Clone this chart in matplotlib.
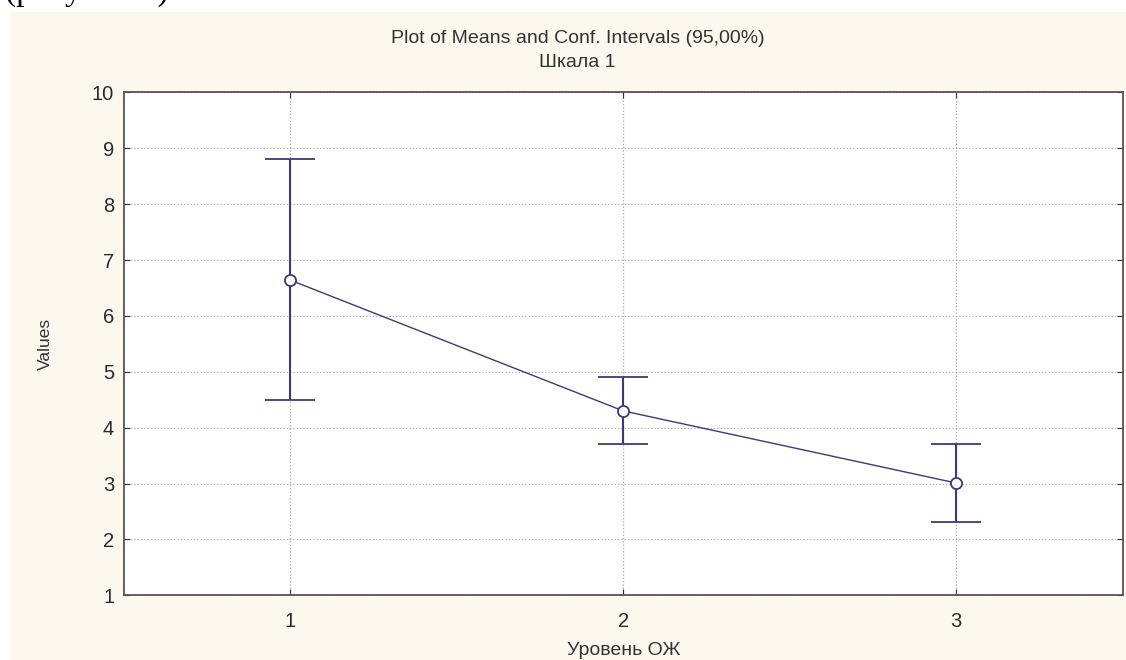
import numpy as np
import matplotlib.pyplot as plt

plt.rcParams['font.family'] = ['Liberation Sans', 'DejaVu Sans']

# group levels and means with 95% CI bounds
levels = [1, 2, 3]
means = [6.64, 4.30, 3.01]
upper = [8.80, 4.90, 3.70]
lower = [4.50, 3.70, 2.32]

means = np.array(means)
err = [means - np.array(lower), np.array(upper) - means]

fig = plt.figure(figsize=(11.26, 6.6), dpi=100)
fig.patch.set_facecolor('white')

# beige panel behind the chart
panel = fig.add_axes([0.009, 0.0, 0.991, 0.982])
panel.set_facecolor('#fcf8ee')
panel.set_xticks([])
panel.set_yticks([])
for s in panel.spines.values():
    s.set_visible(False)

# cut-off caption line from the page above
fig.text(0.004, 1.012, '(рисунок 1).', family='Liberation Serif', fontsize=24,
         color='black', va='center', ha='left')

ax = fig.add_axes([0.110, 0.098, 0.887, 0.762])
ax.set_facecolor('white')
col = '#3b3b78'
ax.errorbar(levels, means, yerr=err, color=col, lw=1.0, capsize=18,
            capthick=1.3, elinewidth=1.5, marker='o', ms=8,
            mfc='white', mec=col, mew=1.3, zorder=3)

ax.set_xlim(0.5, 3.5)
ax.set_ylim(1, 10)
ax.set_xticks(levels)
ax.set_yticks(range(1, 11))
ax.grid(True, ls=':', color='#aaaaaa', lw=0.9)
ax.tick_params(direction='in', length=4, top=True, right=True,
               labelsize=14.5, colors='#333333', labelcolor='#2a2a2a')
ax.tick_params(axis='x', pad=12)
ax.tick_params(axis='y', pad=7)
for s in ax.spines.values():
    s.set_color('#555555')
    s.set_linewidth(1.3)

ax.set_ylabel('Values', fontsize=12.5, color='#333333', labelpad=28)
ax.set_xlabel('Уровень ОЖ', fontsize=14, color='#333333', labelpad=8)
fig.text(0.513, 0.942, 'Plot of Means and Conf. Intervals (95,00%)',
         ha='center', va='center', fontsize=14, color='#333333')
fig.text(0.513, 0.905, 'Шкала 1', ha='center', va='center', fontsize=14,
         color='#333333')

fig.savefig('out.png', dpi=100, facecolor=fig.get_facecolor())
